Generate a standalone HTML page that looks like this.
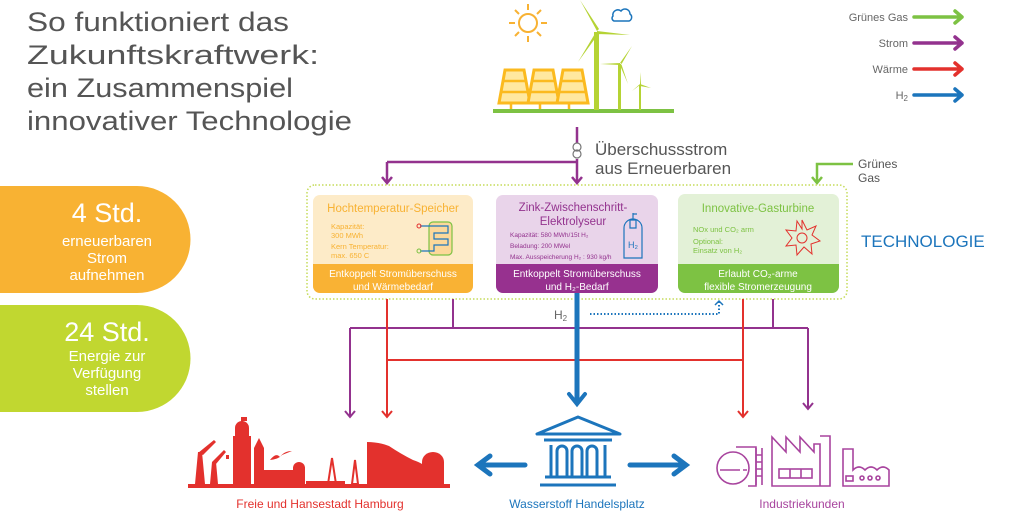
<!DOCTYPE html>
<html><head><meta charset="utf-8"><style>
html,body{margin:0;padding:0;background:#fff}
svg{display:block;font-family:"Liberation Sans",sans-serif}
</style></head><body>
<svg width="1024" height="514" viewBox="0 0 1024 514" xmlns="http://www.w3.org/2000/svg">
<!-- Title -->
<g fill="#555" font-size="27">
<text x="27" y="31" textLength="262" lengthAdjust="spacingAndGlyphs">So funktioniert das</text>
<text x="27" y="64" textLength="292" lengthAdjust="spacingAndGlyphs">Zukunftskraftwerk:</text>
<text x="27" y="97" textLength="266" lengthAdjust="spacingAndGlyphs">ein Zusammenspiel</text>
<text x="27" y="130" textLength="325" lengthAdjust="spacingAndGlyphs">innovativer Technologie</text>
</g>
<!-- pills -->
<path d="M0,186 H137 A53,53 0 0 1 137,293 H0 Z" fill="#F8B233"/>
<path d="M0,305 H137 A53,53 0 0 1 137,412 H0 Z" fill="#C1D730"/>
<g fill="#fff" text-anchor="middle">
<text x="107" y="222" font-size="27">4 Std.</text>
<text x="107" y="246" font-size="15">erneuerbaren</text>
<text x="107" y="263" font-size="15">Strom</text>
<text x="107" y="280" font-size="15">aufnehmen</text>
<text x="107" y="341" font-size="27">24 Std.</text>
<text x="107" y="361" font-size="15">Energie zur</text>
<text x="107" y="378" font-size="15">Verfügung</text>
<text x="107" y="395" font-size="15">stellen</text>
</g>
<!-- renewables -->
<g stroke="#F8B233" stroke-width="2" fill="none">
<circle cx="528" cy="23" r="9"/>
<path d="M528,4 v6 M528,36 v6 M509,23 h6 M541,23 h6 M515,10 l4,4 M541,10 l-4,4 M515,36 l4,-4 M541,36 l-4,-4"/>
</g>
<path d="M613,16 a5,5 0 0 1 8,-5 a5,5 0 0 1 9,3 a4,4 0 0 1 -1,7 h-15 a3,3 0 0 1 -1,-5z" fill="none" stroke="#1C75BC" stroke-width="1.5"/>
<g fill="#FFE8A0" stroke="#FBBA1F" stroke-width="3">
<path d="M505,70 h19 l6,33 h-31 z"/>
<path d="M534,70 h19 l6,33 h-31 z"/>
<path d="M563,70 h19 l6,33 h-31 z"/>
</g>
<g fill="none" stroke="#FBBA1F" stroke-width="2.5">
<path d="M502,81 h24 M501,92 h27 M531,81 h24 M530,92 h27 M560,81 h24 M559,92 h27"/>
<path d="M511,103 v7 M540,103 v7 M569,103 v7"/>
</g>
<rect x="493" y="109" width="181" height="4" fill="#7DC243"/>
<g fill="#B5D334">
<rect x="594" y="32" width="5" height="78"/>
<path d="M597,31 L580,0 L599,29 Z M597,31 L630,35 L597,34 Z M596,32 L578,62 L599,33Z"/>
<rect x="618" y="64" width="3" height="46"/>
<path d="M620,63 L632,46 L621,65Z M620,63 L600,64 L620,65Z M619,63 L628,84 L621,63Z"/>
<rect x="639" y="85" width="2" height="25"/>
<path d="M640,84 L641,72 L641,85Z M640,84 L651,88 L640,86Z M640,84 L632,91 L640,85Z"/>
</g>
<!-- legend -->
<g font-size="11" fill="#666" text-anchor="end">
<text x="908" y="21">Grünes Gas</text>
<text x="908" y="47">Strom</text>
<text x="908" y="73">Wärme</text>
<text x="908" y="99">H<tspan font-size="8" dy="2">2</tspan></text>
</g>
<g fill="none" stroke-width="3.5" stroke-linecap="round" stroke-linejoin="round">
<path d="M914,17 H962 M955,11 L962,17 L955,23" stroke="#7DC243"/>
<path d="M914,43 H962 M955,37 L962,43 L955,49" stroke="#93328E"/>
<path d="M914,69 H962 M955,63 L962,69 L955,75" stroke="#E3312D"/>
<path d="M914,95 H962 M955,89 L962,95 L955,101" stroke="#1C75BC"/>
</g>
<!-- Überschussstrom -->
<g stroke="#93328E" stroke-width="2.5" fill="none">
<path d="M577,127 V182 M387,162 H577 M387,162 V182"/>
<path d="M572,177 L577,183 L582,177 M382,177 L387,183 L392,177"/>
</g>
<rect x="571" y="143" width="12" height="16" fill="#fff"/>
<circle cx="577" cy="147" r="4" fill="none" stroke="#777" stroke-width="1.2"/>
<circle cx="577" cy="154" r="4" fill="none" stroke="#777" stroke-width="1.2"/>
<g fill="#555" font-size="17"><text x="595" y="155">Überschussstrom</text><text x="595" y="174">aus Erneuerbaren</text></g>
<g stroke="#7DC243" stroke-width="2.5" fill="none"><path d="M853,164 H817 V182 M812,177 L817,183 L822,177"/></g>
<g fill="#555" font-size="12"><text x="858" y="168">Grünes</text><text x="858" y="182">Gas</text></g>
<!-- tech box -->
<rect x="307" y="185" width="540" height="114" rx="8" fill="none" stroke="#C5DB5A" stroke-width="1.5" stroke-dasharray="1.5,2"/>
<text x="861" y="247" font-size="17" fill="#1C75BC">TECHNOLOGIE</text>
<!-- orange -->
<rect x="313" y="195" width="160" height="98" rx="7" fill="#FDEBC8"/>
<path d="M313,264 H473 V286 a7,7 0 0 1 -7,7 H320 a7,7 0 0 1 -7,-7Z" fill="#F9B234"/>
<text x="393" y="212" font-size="11.5" fill="#F8B233" text-anchor="middle">Hochtemperatur-Speicher</text>
<g font-size="7.5" fill="#F8B233"><text x="331" y="229">Kapazität:</text><text x="331" y="238">300 MWh</text><text x="331" y="249">Kern Temperatur:</text><text x="331" y="258">max. 650 C</text></g>
<rect x="429" y="222" width="23" height="33" rx="4" fill="#FCD89A" stroke="#7DC243" stroke-width="1.2"/>
<path d="M420,226 H448 V233 H434 V239 H448 V245 H434 V251 H420" fill="none" stroke="#1C75BC" stroke-width="1.2"/>
<circle cx="419" cy="226" r="2" fill="none" stroke="#E3312D"/><circle cx="419" cy="251" r="2" fill="none" stroke="#7DC243"/>
<g fill="#fff" font-size="10" text-anchor="middle"><text x="393" y="277">Entkoppelt Stromüberschuss</text><text x="393" y="290">und Wärmebedarf</text></g>
<!-- purple -->
<rect x="496" y="195" width="162" height="98" rx="7" fill="#E9D4EA"/>
<path d="M496,264 H658 V286 a7,7 0 0 1 -7,7 H503 a7,7 0 0 1 -7,-7Z" fill="#97318F"/>
<g font-size="11.5" fill="#93328E" text-anchor="middle"><text x="573" y="211">Zink-Zwischenschritt-</text><text x="573" y="225">Elektrolyseur</text></g>
<g font-size="6.5" fill="#93328E"><text x="510" y="237">Kapazität: 580 MWh/15t H₂</text><text x="510" y="248">Beladung: 200 MWel</text><text x="510" y="259">Max. Ausspeicherung H₂ : 930 kg/h</text></g>
<path d="M624,228 a9,9 0 0 1 18,0 V258 H624Z M630,220 h6 v8 h-6z M633,213 v7 M633,214 h4" fill="none" stroke="#1C75BC" stroke-width="1.2"/>
<text x="628" y="248" font-size="9" fill="#1C75BC">H₂</text>
<g fill="#fff" font-size="10" text-anchor="middle"><text x="577" y="277">Entkoppelt Stromüberschuss</text><text x="577" y="290">und H₂-Bedarf</text></g>
<!-- green -->
<rect x="678" y="194" width="161" height="99" rx="7" fill="#E3F1D7"/>
<path d="M678,264 H839 V286 a7,7 0 0 1 -7,7 H685 a7,7 0 0 1 -7,-7Z" fill="#7DC243"/>
<text x="758" y="212" font-size="11.5" fill="#7DC243" text-anchor="middle">Innovative-Gasturbine</text>
<g font-size="7.5" fill="#7DC243"><text x="693" y="232">NOx und CO₂ arm</text><text x="693" y="244">Optional:</text><text x="693" y="253">Einsatz von H₂</text></g>
<g transform="translate(802,238)" fill="none" stroke="#E3312D" stroke-width="1">
<path d="M0,-18 L5,-8 L14,-12 L10,-3 L18,3 L9,6 L10,16 L2,9 L-5,17 L-6,7 L-16,8 L-10,0 L-16,-8 L-6,-7 L-5,-17 L0,-9 Z"/>
<circle r="5"/></g>
<g fill="#fff" font-size="10" text-anchor="middle"><text x="758" y="277">Erlaubt CO₂-arme</text><text x="758" y="290">flexible Stromerzeugung</text></g>
<!-- lower connectors -->
<g fill="none" stroke-width="2">
<path d="M453,299 V328 M773,299 V328 M350,328 H808 M350,328 V416 M808,328 V408 M345,411 L350,417 L355,411 M803,403 L808,409 L813,403" stroke="#93328E"/>
<path d="M387,299 V416 M743,299 V416 M387,360 H743 M382,411 L387,417 L392,411 M738,411 L743,417 L748,411" stroke="#E3312D"/>
</g>
<path d="M577,293 V402" stroke="#1C75BC" stroke-width="5"/>
<path d="M569,394 L577,404 L585,394" stroke="#1C75BC" stroke-width="4" fill="none" stroke-linecap="round"/>
<text x="554" y="319" font-size="12" fill="#666">H<tspan font-size="8" dy="2">2</tspan></text>
<path d="M590,314 H719 V302" stroke="#1C75BC" stroke-width="2" stroke-dasharray="1.5,2" fill="none"/>
<path d="M715,305 L719,301 L723,305" stroke="#1C75BC" stroke-width="1.5" fill="none"/>
<!-- bank -->
<g fill="none" stroke="#1C75BC" stroke-width="3" stroke-linejoin="round">
<path d="M578,417 L537,434 H620 Z"/>
<path d="M544,440 H612 M545,477 H611 M540,485 H616"/>
<path d="M551,477 V445 M605,477 V445"/>
<path d="M557,477 V451 a5,5 0 0 1 10,0 V477 M572,477 V451 a5,5 0 0 1 10,0 V477 M587,477 V451 a5,5 0 0 1 10,0 V477"/>
</g>
<g stroke="#1C75BC" stroke-width="5" fill="none" stroke-linecap="round">
<path d="M525,465 H480 M490,456 L478,465 L490,474"/>
<path d="M630,465 H684 M674,456 L686,465 L674,474"/>
</g>
<!-- Hamburg skyline -->
<g fill="#E3312D">
<rect x="188" y="484" width="262" height="4"/>
<path d="M195,484 L198,452 L202,452 L205,484Z M198,453 L214,440 L216,442 L203,455Z"/>
<path d="M210,484 L212,462 L216,462 L218,484Z M212,462 L224,450 L226,452 L216,464Z"/>
<rect x="226" y="455" width="3" height="4"/>
<rect x="233" y="436" width="18" height="48"/><path d="M235,436 V428 a7,7 0 0 1 14,0 V436Z"/><rect x="241" y="417" width="2" height="11"/><rect x="242" y="417" width="5" height="4"/>
<rect x="254" y="448" width="10" height="36"/><path d="M254,448 L259,438 L264,448Z"/>
<rect x="264" y="470" width="30" height="14"/><path d="M293,468 a6,6 0 0 1 12,0 V484 H293Z"/>
<path d="M270,460 q6,-8 10,-3 q4,-6 12,-6 l-10,4 q-3,4 -12,5Z"/>
<path d="M306,481 H345 V484 H306Z"/>
<path d="M328,484 L332,458 L336,484 Z" fill="none" stroke="#E3312D" stroke-width="2"/>
<path d="M352,484 L355,460 L358,484 Z" fill="none" stroke="#E3312D" stroke-width="2"/>
<path d="M367,484 V442 q12,0 22,4 q12,8 24,14 q6,2 9,4 V484Z"/>
<path d="M422,484 V462 a11,10 0 0 1 22,0 V484Z"/>
</g>
<!-- Industrie -->
<g fill="none" stroke="#A8449E" stroke-width="1.6">
<circle cx="733" cy="468" r="16"/><path d="M720,470 H740 M743,470 H747"/>
<path d="M736,447 H756 V486 H748"/><path d="M756,448 V485 M762,448 V485 M756,455 h6 M756,462 h6 M756,469 h6 M756,476 h6"/>
<path d="M772,486 V437 L786,452 V437 L800,452 V437 L814,452 V444 H820 V486 Z M820,436 H830 V486 H820"/>
<rect x="779" y="469" width="33" height="9"/><path d="M790,469 v9 M801,469 v9"/>
<path d="M843,486 V449 H853 V470 q6,-6 12,0 q6,-6 12,0 q6,-6 12,0 V486Z"/>
<rect x="846" y="476" width="7" height="5"/><circle cx="862" cy="478" r="2"/><circle cx="870" cy="478" r="2"/><circle cx="878" cy="478" r="2"/>
</g>
<!-- labels -->
<g font-size="12" text-anchor="middle">
<text x="320" y="508" fill="#E3312D">Freie und Hansestadt Hamburg</text>
<text x="577" y="508" fill="#1C75BC">Wasserstoff Handelsplatz</text>
<text x="802" y="508" fill="#A8449E">Industriekunden</text>
</g>
</svg>
</body></html>
